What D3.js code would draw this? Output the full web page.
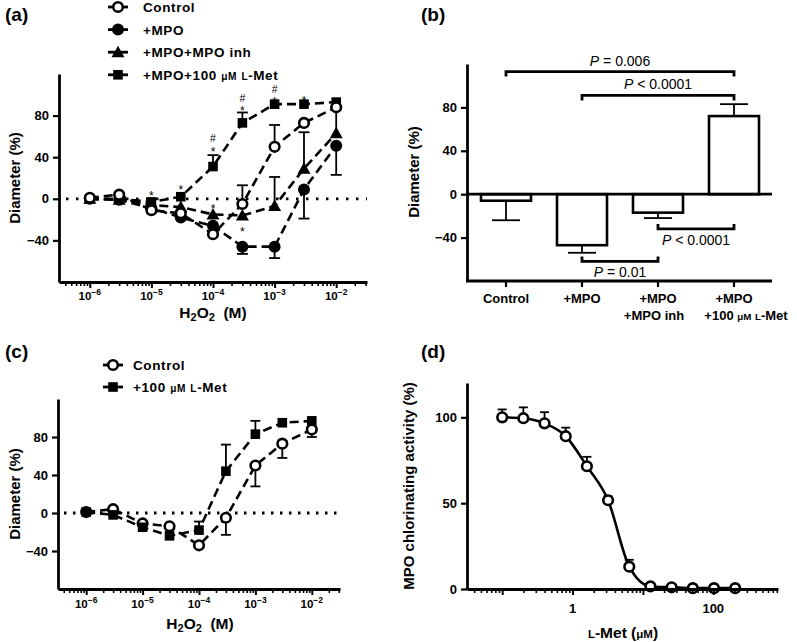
<!DOCTYPE html>
<html><head><meta charset="utf-8">
<script src="https://cdn.jsdelivr.net/npm/d3@7"></script>
<style>body{margin:0;background:#fff} text{font-family:"Liberation Sans",Arial,Helvetica,sans-serif;fill:#000}</style>
</head><body><svg id="c" width="797" height="642"></svg>
<script>
// ---------- DATA ----------
// Panel (a)
const concH2O2 = [1e-6,3e-6,1e-5,3e-5,1e-4,3e-4,1e-3,3e-3,1e-2];
const aControl    = [1,4,-11,-14,-34,-5,50,73,88];
const aControlErr = [null,null,null,null,null,13,71,null,null];
const aMPO        = [0,-1,-9,-18,-26,-46,-46,9,51];
const aMPOErr     = [null,null,null,null,null,-53,-57,-19,23];
const aInh        = [0,-1,-6,-8,-15,-16,-7,29,63];
const aInhErr     = [null,null,null,null,null,null,21,64,88];
const aMet        = [0,0,-3,2,31,73,91,91,93];
const aMetErr     = [null,null,null,null,42,83,null,null,null];
// significance marks (concentration, value at the mark's centre, symbol)
const aSigConc  = [1e-5,3e-5,1e-4,3e-4,1e-4,1e-4,3e-4,3e-4,1e-3,1e-3,3e-3];
const aSigValue = [7,12,-6,-28,49,58,88,97,97,106,98];
const aSigText  = ["*","*","*","*","*","#","*","#","*","#","*"];
const aLegend = ["Control","+MPO","+MPO+MPO inh","+MPO+100 µM L-Met"];
const yTicksDiam = [-40,0,40,80];
const logTickExp = [-6,-5,-4,-3,-2];

// Panel (b)
const bCats = ["Control","+MPO","+MPO inh","+L-Met"];
const bLabels = [["Control"],["+MPO"],["+MPO","+MPO inh"],["+MPO","+100 µM L-Met"]];
const bValues = [-6,-47,-17,72];
const bErr    = [-24,-54,-22,83];
const bBracketFrom = [0,1,1,2];
const bBracketTo   = [3,3,2,3];
const bBracketY    = [113,91,-62,-32];
const bBracketOp   = ["=","<","=","<"];
const bBracketP    = ["0.006","0.0001","0.01","0.0001"];

// Panel (c)
const cControl    = [1,4,-11,-14,-34,-5,50,73,88];
const cControlErr = [null,null,null,null,null,-23,28,58,80];
const cMet        = [1,-2,-15,-24,-18,44,83,95,97];
const cMetErr     = [null,null,null,null,-9,72,97,null,null];

// Panel (d)
const dConc  = [0.1,0.2,0.4,0.8,1.6,3.2,6.4,12.8,25.6,51.2,102.4,204.8];
const dAct   = [100,99.5,96.5,89,71.5,51.7,13,1.5,1,0.5,0.5,0.5];
const dErr   = [104.6,105.8,103,94,77,54,17,null,null,null,null,null];
const yTicksD = [0,50,100];

// ---------- DRAW ----------
const svg = d3.select("#c");
const BLK = "#000";

function marker(g, type, cx, cy) {
  if (type === "open") g.append("circle").attr("cx",cx).attr("cy",cy).attr("r",4.8).attr("fill","#fff").attr("stroke",BLK).attr("stroke-width",2.6);
  else if (type === "filled") g.append("circle").attr("cx",cx).attr("cy",cy).attr("r",6).attr("fill",BLK);
  else if (type === "square") g.append("rect").attr("x",cx-4.8).attr("y",cy-4.8).attr("width",9.6).attr("height",9.6).attr("fill",BLK);
  else if (type === "triangle") g.append("path").attr("d",`M${cx},${cy-6.5}L${cx+6.5},${cy+5}L${cx-6.5},${cy+5}Z`).attr("fill",BLK);
}

function panelLabel(txt, x, y) {
  svg.append("text").attr("x",x).attr("y",y).attr("font-size",19).attr("font-weight","bold").text(txt);
}

function yLabel(txt, x, cy) {
  svg.append("text").attr("transform",`translate(${x},${cy}) rotate(-90)`).attr("text-anchor","middle")
    .attr("font-size",15).attr("font-weight","bold").text(txt);
}

function yAxis(x, y, left, ticks) {
  const g = svg.append("g").attr("transform",`translate(${left},0)`)
    .call(d3.axisLeft(y).tickValues(ticks).tickSize(6).tickSizeOuter(0).tickPadding(4)
      .tickFormat(d => d < 0 ? "\u2212" + Math.abs(d) : d));
  g.select(".domain").attr("stroke",BLK).attr("stroke-width",2.8);
  g.selectAll(".tick line").attr("stroke",BLK).attr("stroke-width",2.2);
  g.selectAll(".tick text").attr("font-size",13).attr("font-weight","bold").attr("fill",BLK);
  return g;
}

function logXAxis(x, bottom) {
  const [d0,d1] = x.domain();
  const minors = [];
  for (let e = Math.floor(Math.log10(d0)); e <= Math.ceil(Math.log10(d1)); e++)
    for (let k = 1; k <= 9; k++) { const v = k*Math.pow(10,e); if (v >= d0 && v <= d1) minors.push(v); }
  const g = svg.append("g").attr("transform",`translate(0,${bottom})`);
  g.call(d3.axisBottom(x).tickValues(minors).tickSize(4).tickSizeOuter(0).tickFormat(""));
  g.select(".domain").attr("stroke",BLK).attr("stroke-width",2.8);
  g.selectAll(".tick line").attr("stroke",BLK).attr("stroke-width",1.6)
    .filter(d => Math.abs(Math.log10(d) - Math.round(Math.log10(d))) < 1e-9).attr("y2",6).attr("stroke-width",2);
  return g;
}

function supTickLabels(x, yBase, exps) {
  exps.forEach(e => {
    const t = svg.append("text").attr("x",x(Math.pow(10,e))).attr("y",yBase).attr("text-anchor","middle")
      .attr("font-weight","bold").attr("font-size",11.5);
    t.append("tspan").text("10");
    t.append("tspan").attr("dy",-5).attr("font-size",8.5).text("\u2212" + Math.abs(e));
  });
}

function h2o2Label(cx, y) {
  const t = svg.append("text").attr("x",cx).attr("y",y).attr("text-anchor","middle").attr("font-weight","bold").attr("font-size",15.5);
  t.append("tspan").text("H");
  t.append("tspan").attr("font-size",11).attr("dy",3).text("2");
  t.append("tspan").attr("dy",-3).text("O");
  t.append("tspan").attr("font-size",11).attr("dy",3).text("2");
  t.append("tspan").attr("dy",-3).text("\u00a0 (M)");
}

// write text with small-caps for "µM" and "L"
function richText(t, s, fs) {
  const parts = s.split(/(µM|L(?=-))/);
  parts.forEach(p => {
    if (p === "µM" || p === "L") t.append("tspan").attr("font-size",fs*0.75).text(p === "µM" ? "\u03bcM" : "L");
    else if (p) t.append("tspan").text(p);
  });
}

function series(g, x, y, xs, vals, errs, type, capW) {
  const pts = xs.map((c,i) => [c, vals[i]]);
  g.append("path").datum(pts).attr("fill","none").attr("stroke",BLK).attr("stroke-width",2.6)
    .attr("stroke-dasharray","9,5")
    .attr("d", d3.line().x(d => x(d[0])).y(d => y(d[1])));
  xs.forEach((c,i) => {
    if (errs[i] == null) return;
    const cx = x(c);
    g.append("line").attr("x1",cx).attr("x2",cx).attr("y1",y(vals[i])).attr("y2",y(errs[i])).attr("stroke",BLK).attr("stroke-width",1.8);
    g.append("line").attr("x1",cx-capW/2).attr("x2",cx+capW/2).attr("y1",y(errs[i])).attr("y2",y(errs[i])).attr("stroke",BLK).attr("stroke-width",1.8);
  });
  return pts;
}

// ===== Panel (a) =====
panelLabel("(a)", 5, 21);
const xa = d3.scaleLog().domain([Math.pow(10,-6.5), Math.pow(10,-1.5)]).range([59,367]);
const ya = d3.scaleLinear().domain([-80,120]).range([282,74]);
svg.append("line").attr("x1",66).attr("x2",367).attr("y1",ya(0)).attr("y2",ya(0))
  .attr("stroke",BLK).attr("stroke-width",2.8).attr("stroke-dasharray","2.5,7.5");
const ga = svg.append("g");
const aSeries = [[aMet,aMetErr,"square"],[aInh,aInhErr,"triangle"],[aMPO,aMPOErr,"filled"],[aControl,aControlErr,"open"]];
aSeries.forEach(s => series(ga, xa, ya, concH2O2, s[0], s[1], s[2], 11));
aSeries.forEach(s => concH2O2.forEach((c,i) => marker(ga, s[2], xa(c), ya(s[0][i]))));
aSigConc.forEach((c,i) => {
  const isStar = aSigText[i] === "*";
  svg.append("text").attr("x",xa(c)).attr("y",ya(aSigValue[i]) + (isStar ? 8 : 4))
    .attr("text-anchor","middle").attr("font-size", isStar ? 12 : 10.5).text(aSigText[i]);
});
yAxis(xa, ya, 59, yTicksDiam);
logXAxis(xa, 282);
supTickLabels(xa, 300, logTickExp);
h2o2Label(213, 318);
yLabel("Diameter (%)", 20, 178);
// legend (a)
const legTypes = ["open","filled","triangle","square"];
aLegend.forEach((l,i) => {
  const cy = 7 + i*22.6;
  svg.append("line").attr("x1",108).attr("x2",128).attr("y1",cy).attr("y2",cy).attr("stroke",BLK).attr("stroke-width",2.8);
  marker(svg, legTypes[i], 118, cy);
  const t = svg.append("text").attr("x",143).attr("y",cy+5).attr("font-size",13.5).attr("font-weight","bold").attr("letter-spacing",0.6);
  richText(t, l, 13.5);
});

// ===== Panel (b) =====
panelLabel("(b)", 421, 21);
const xb = d3.scalePoint().domain(bCats).range([506,734]);
const yb = d3.scaleLinear().domain([-80,120]).range([281,64]);
const gb = svg.append("g");
bCats.forEach((c,i) => {
  const cx = xb(c), v = bValues[i];
  gb.append("line").attr("x1",cx).attr("x2",cx).attr("y1",yb(v)).attr("y2",yb(bErr[i])).attr("stroke",BLK).attr("stroke-width",1.8);
  gb.append("line").attr("x1",cx-14).attr("x2",cx+14).attr("y1",yb(bErr[i])).attr("y2",yb(bErr[i])).attr("stroke",BLK).attr("stroke-width",1.8);
  gb.append("rect").attr("x",cx-25).attr("width",50).attr("y",Math.min(yb(v),yb(0))).attr("height",Math.abs(yb(v)-yb(0)))
    .attr("fill","#fff").attr("stroke",BLK).attr("stroke-width",2.6);
});
svg.append("line").attr("x1",467).attr("x2",772).attr("y1",yb(0)).attr("y2",yb(0)).attr("stroke",BLK).attr("stroke-width",2.8);
yAxis(xb, yb, 467, yTicksDiam);
svg.append("line").attr("x1",466).attr("x2",772).attr("y1",281).attr("y2",281).attr("stroke",BLK).attr("stroke-width",2.8);
bCats.forEach(c => svg.append("line").attr("x1",xb(c)).attr("x2",xb(c)).attr("y1",281).attr("y2",287).attr("stroke",BLK).attr("stroke-width",2.2));
bLabels.forEach((lines,i) => {
  lines.forEach((l,j) => {
    const shift = (i === bLabels.length-1 && j === 1) ? 12 : (i === 2 && j === 1 ? -4 : 0);
    const t = svg.append("text").attr("x",xb(bCats[i]) + shift).attr("y",303 + j*17).attr("text-anchor","middle")
      .attr("font-size",13).attr("font-weight","bold");
    richText(t, l, 13);
  });
});
bBracketFrom.forEach((a,i) => {
  const x1 = xb(bCats[a]), x2 = xb(bCats[bBracketTo[i]]), yy = yb(bBracketY[i]);
  const up = bBracketY[i] > 0;
  const tick = up ? 5 : -5;
  svg.append("path").attr("d",`M${x1},${yy+tick}V${yy}H${x2}V${yy+tick}`).attr("fill","none")
    .attr("stroke",BLK).attr("stroke-width",2.8);
  const t = svg.append("text").attr("x",(x1+x2)/2).attr("y", up ? yy-6 : yy+16).attr("text-anchor","middle").attr("font-size",14);
  t.append("tspan").attr("font-style","italic").text("P");
  t.append("tspan").text(` ${bBracketOp[i]} ${bBracketP[i]}`);
});
yLabel("Diameter (%)", 419, 172);

// ===== Panel (c) =====
panelLabel("(c)", 5, 358);
const xc = d3.scaleLog().domain([Math.pow(10,-6.5), Math.pow(10,-1.5)]).range([58,340]);
const yc = d3.scaleLinear().domain([-80,120]).range([589,399]);
svg.append("line").attr("x1",64).attr("x2",340).attr("y1",yc(0)).attr("y2",yc(0))
  .attr("stroke",BLK).attr("stroke-width",2.8).attr("stroke-dasharray","2.5,6.5");
const gc = svg.append("g");
const cSeries = [[cControl,cControlErr,"open"],[cMet,cMetErr,"square"]];
cSeries.forEach(s => series(gc, xc, yc, concH2O2, s[0], s[1], s[2], 10));
cSeries.forEach(s => concH2O2.forEach((c,i) => marker(gc, s[2], xc(c), yc(s[0][i]))));
yAxis(xc, yc, 58, yTicksDiam);
logXAxis(xc, 589);
supTickLabels(xc, 608, logTickExp);
h2o2Label(200, 629);
yLabel("Diameter (%)", 20, 494);
[["Control","open"],["+100 µM L-Met","square"]].forEach((l,i) => {
  const cy = 365 + i*22;
  svg.append("line").attr("x1",103).attr("x2",123).attr("y1",cy).attr("y2",cy).attr("stroke",BLK).attr("stroke-width",2.8);
  marker(svg, l[1], 113, cy);
  const t = svg.append("text").attr("x",133).attr("y",cy+5).attr("font-size",13.5).attr("font-weight","bold").attr("letter-spacing",0.6);
  richText(t, l[0], 13.5);
});

// ===== Panel (d) =====
panelLabel("(d)", 421, 358);
const xd = d3.scaleLog().domain([Math.pow(10,-1.5), Math.pow(10,2.92)]).range([467,778]);
const yd = d3.scaleLinear().domain([0,120]).range([589,383]);
const gd = svg.append("g");
gd.append("path").datum(dConc.map((c,i) => [c,dAct[i]])).attr("fill","none").attr("stroke",BLK).attr("stroke-width",2.6)
  .attr("d", d3.line().curve(d3.curveMonotoneX).x(d => xd(d[0])).y(d => yd(d[1])));
dConc.forEach((c,i) => {
  if (dErr[i] == null) return;
  const cx = xd(c);
  gd.append("line").attr("x1",cx).attr("x2",cx).attr("y1",yd(dAct[i])).attr("y2",yd(dErr[i])).attr("stroke",BLK).attr("stroke-width",1.8);
  gd.append("line").attr("x1",cx-4.5).attr("x2",cx+4.5).attr("y1",yd(dErr[i])).attr("y2",yd(dErr[i])).attr("stroke",BLK).attr("stroke-width",1.8);
});
logXAxis(xd, 589);
dConc.forEach((c,i) => marker(gd, "open", xd(c), yd(dAct[i])));
yAxis(xd, yd, 467, yTicksD);
[1,100].forEach(v => svg.append("text").attr("x",xd(v)).attr("y",613).attr("text-anchor","middle")
  .attr("font-size",13).attr("font-weight","bold").text(v));
{
  const t = svg.append("text").attr("x",623).attr("y",638).attr("text-anchor","middle").attr("font-size",15.5).attr("font-weight","bold");
  t.append("tspan").attr("font-size",11.5).text("L");
  t.append("tspan").text("-Met (");
  t.append("tspan").attr("font-size",11.5).text("\u03bcM");
  t.append("tspan").text(")");
}
yLabel("MPO chlorinating activity (%)", 414, 486);
</script></body></html>
